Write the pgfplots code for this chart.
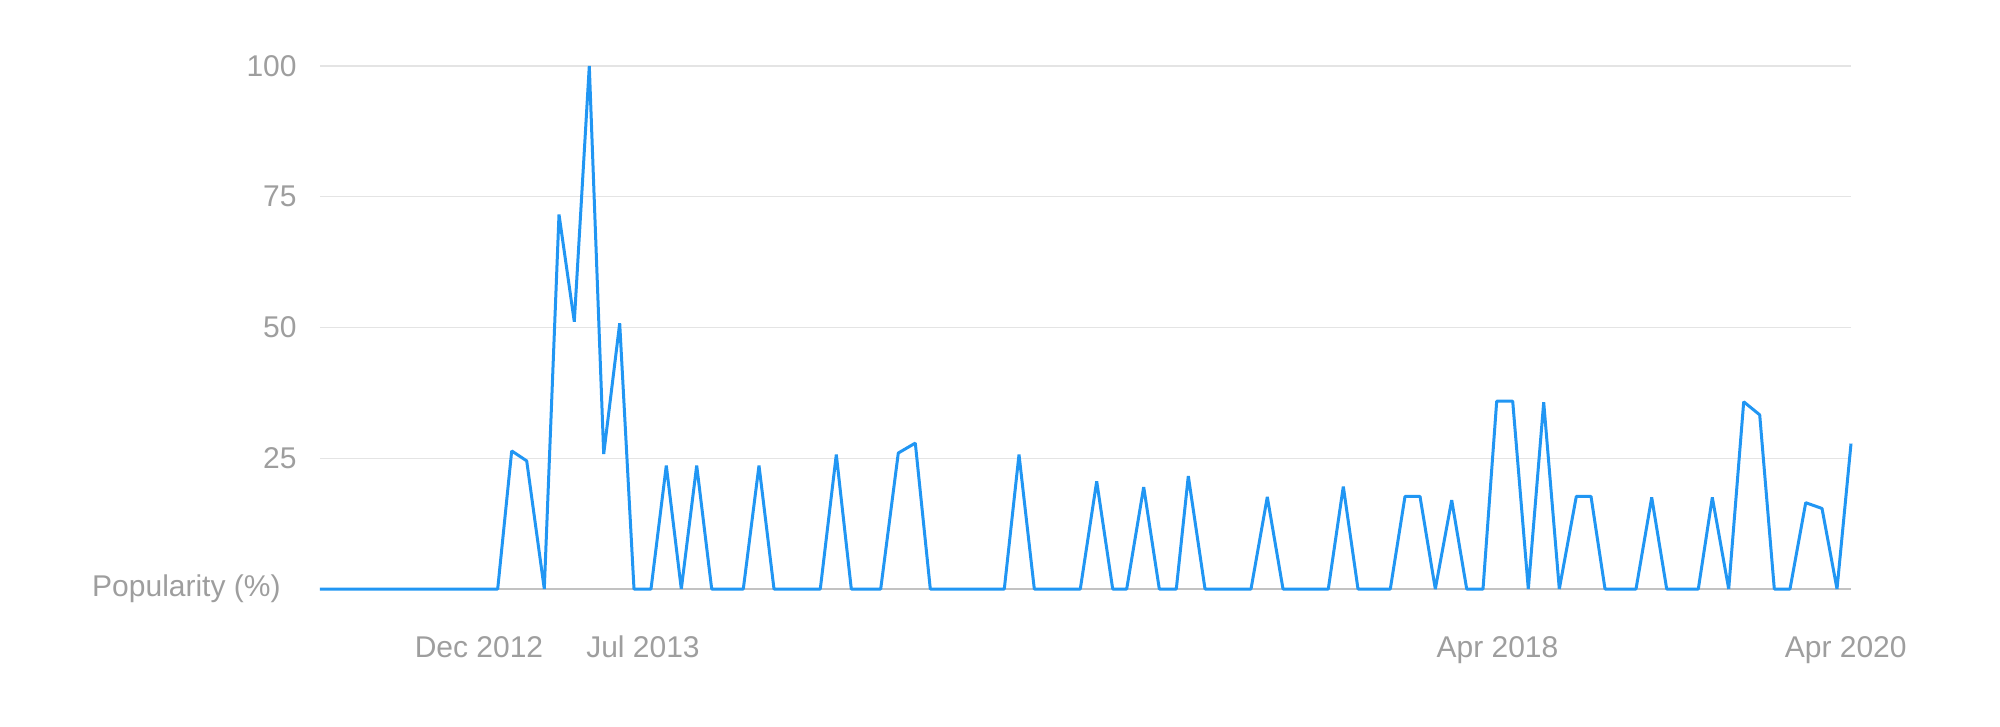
\documentclass[border=0pt]{standalone}
\usepackage{fontspec}
\setmainfont{Liberation Sans}
\usepackage{pgfplots}
\pgfplotsset{compat=1.18}

\definecolor{lineblue}{HTML}{2196F3}
\definecolor{labelgray}{HTML}{9E9E9E}
\definecolor{gridgray}{HTML}{E4E4E4}
\definecolor{basegray}{HTML}{C2C2C2}

% popularity series, x read as horizontal position along the axis
\pgfplotstableread{
x       y
0       0
177.7   0
191.7   26.4
206.7   24.5
224.3   0
239     71.6
254.3   51.1
269.3   100
283.7   25.8
299.7   50.8
314     0
331     0
346.3   23.6
361.3   0
376.7   23.6
391.7   0
423.3   0
439     23.6
454     0
500.3   0
516.3   25.7
531.3   0
560.7   0
578.3   26.0
595.3   27.9
610.3   0
684.3   0
699     25.7
714.3   0
760.3   0
776.7   20.6
792.7   0
806.7   0
823.7   19.5
839.3   0
856.3   0
868.3   21.6
885     0
931     0
947.3   17.6
963     0
1008.3  0
1023.3  19.6
1038    0
1070.3  0
1085    17.7
1100    17.7
1115.3  0
1131.7  17.0
1146.7  0
1163    0
1176.7  35.9
1192.7  35.9
1208.3  0
1223.7  35.7
1239.3  0
1256.3  17.7
1271    17.7
1285    0
1316    0
1331.7  17.5
1346.7  0
1378.3  0
1392.3  17.5
1408.7  0
1423.7  35.8
1439.7  33.3
1454.3  0
1470    0
1485.7  16.5
1502    15.4
1517    0
1531    27.8
}\popularity

\begin{document}
\begin{tikzpicture}
\begin{axis}[
    at={(0,0)}, anchor=south west,
    scale only axis,
    width=765.5bp, height=261.5bp,
    xmin=0, xmax=1531,
    ymin=0, ymax=100,
    clip=false,
    axis line style={draw=none},
    major tick length=0pt,
    ytick={25,50,75,100},
    ymajorgrids,
    grid style={gridgray, line width=0.6bp},
    extra y ticks={0},
    extra y tick labels={Popularity (\%)},
    extra y tick style={grid style={basegray, line width=0.8bp},
        yticklabel style={xshift=-8bp}},
    xtick={159,323,1177.5,1525.7},
    xticklabels={Dec 2012, Jul 2013, Apr 2018, Apr 2020},
    /pgf/number format/assume math mode=true,
    tick label style={text=labelgray, font=\fontsize{15bp}{18bp}\selectfont},
    yticklabel style={inner sep=0pt, anchor=east, xshift=-11.5bp},
    xticklabel style={inner sep=0pt, anchor=base, yshift=-34bp},
]
\addplot[lineblue, line width=1.5bp, line join=bevel, no markers] table {\popularity};
\end{axis}
\pgfresetboundingbox
\useasboundingbox (-160bp,-69bp) rectangle (840bp,294.5bp);
\end{tikzpicture}
\end{document}
